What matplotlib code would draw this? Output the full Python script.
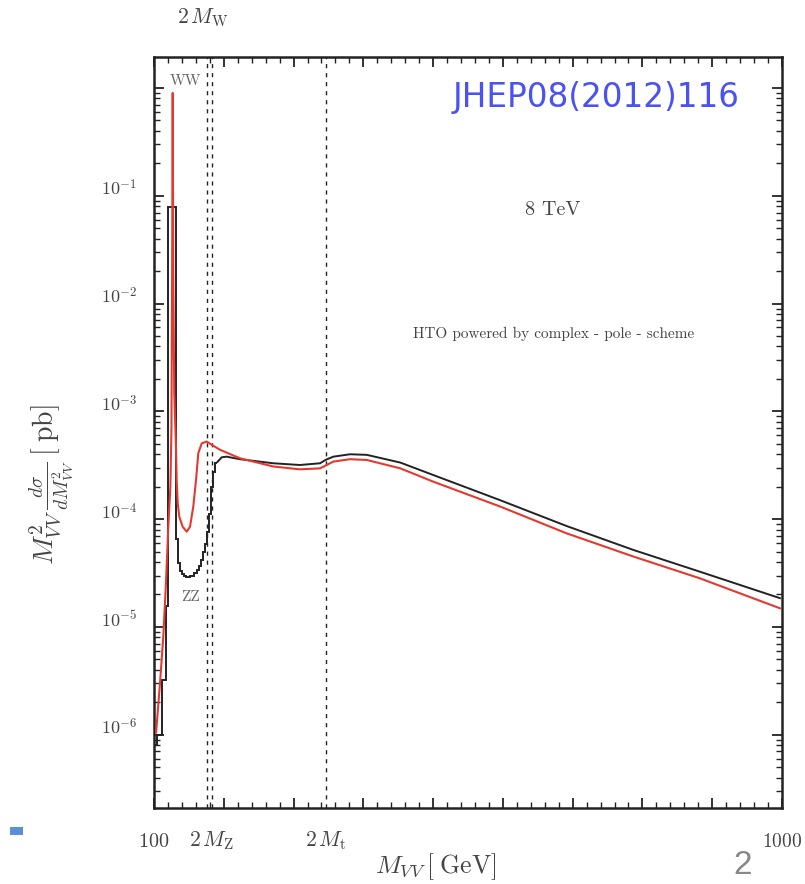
import matplotlib
matplotlib.use('Agg')
import matplotlib.pyplot as plt
from matplotlib.ticker import MultipleLocator, LogLocator, NullFormatter
from matplotlib.patches import Rectangle

plt.rcParams['mathtext.fontset'] = 'cm'
plt.rcParams['axes.unicode_minus'] = False

# black curve, stepped part (bin edges in GeV, values in pb)
black_edges = [102, 104, 111, 116.5, 120.5, 131, 134, 137, 140, 143, 146, 149, 152, 155,
               158, 161, 164, 167, 170, 173, 176, 179, 182, 185, 188, 191]
black_steps = [8.0e-7, 1.0e-6, 3.2e-6, 1.55e-5, 7.9e-2, 6.5e-5, 3.9e-5, 3.3e-5, 3.1e-5,
               2.95e-5, 2.9e-5, 2.9e-5, 2.95e-5, 3.0e-5, 3.15e-5, 3.4e-5, 3.7e-5,
               4.2e-5, 5.0e-5, 5.9e-5, 7.6e-5, 1.12e-4, 2.0e-4, 2.75e-4, 3.3e-4]

# black curve, smooth part
black_m = [191, 197, 204, 223, 271, 309, 338, 346, 357, 381, 405, 453, 500,
           596, 691, 787, 882, 997]
black_v = [3.4e-4, 3.75e-4, 3.8e-4, 3.6e-4, 3.3e-4, 3.18e-4, 3.3e-4, 3.55e-4,
           3.8e-4, 4.0e-4, 3.95e-4, 3.35e-4, 2.57e-4, 1.5e-4, 8.65e-5, 5.18e-5,
           3.26e-5, 1.85e-5]

# red curve
red_m = [103, 108.6, 113.3, 117.2, 120.5, 123.5, 125.0, 126.0, 126.8, 127.6, 129,
         131.5, 132.5, 134.0, 136.3, 141.1, 146.9, 151.6, 156.3, 160.2, 163.5, 168.4,
         175.5, 182.7, 194.6, 223.2, 271, 309, 338, 345, 357, 381, 405, 453, 500,
         596, 691, 787, 882, 997]
red_v = [1.05e-6, 3.0e-6, 8.1e-6, 2.6e-5, 8.5e-5, 2.0e-4, 7e-4, 2e-2, 0.9, 2e-2,
         1.5e-3, 4.7e-4, 2.3e-4, 1.4e-4, 1.05e-4, 8.5e-5, 7.65e-5, 8.5e-5, 1.31e-4,
         2.3e-4, 4.1e-4, 5.05e-4, 5.25e-4, 4.9e-4, 4.4e-4, 3.67e-4, 3.08e-4, 2.9e-4,
         2.96e-4, 3.12e-4, 3.42e-4, 3.6e-4, 3.54e-4, 2.96e-4, 2.23e-4, 1.31e-4,
         7.4e-5, 4.5e-5, 2.83e-5, 1.49e-5]

# thresholds (GeV) as drawn
thr_w = 175.5
thr_z = 183
thr_t = 346

W, H = 805, 884
fig = plt.figure(figsize=(W/100, H/100), dpi=100)
ax = fig.add_axes([154/W, 1-808/H, (782-154)/W, (808-57)/H])

ax.set_yscale('log')
ax.set_xlim(100, 1000)
ax.set_ylim(2.09e-7, 1.94)

tc = '#444444'
for xv in [thr_w, thr_z, thr_t]:
    ax.axvline(xv, color='#222222', lw=1.0, ls=(0, (3, 3.5)), zorder=1)

ax.stairs(black_steps, black_edges, baseline=None, color='#222222', lw=1.4, zorder=3)
ax.plot(black_m, black_v, color='#222222', lw=1.4, zorder=3)
ax.plot(red_m, red_v, color='#e5392f', lw=1.5, zorder=4)

ax.xaxis.set_major_locator(MultipleLocator(100))
ax.xaxis.set_minor_locator(MultipleLocator(20))
ax.yaxis.set_major_locator(LogLocator(base=10, numticks=20))
ax.yaxis.set_minor_locator(LogLocator(base=10, subs=range(2, 10), numticks=20))
ax.xaxis.set_major_formatter(NullFormatter())
ax.yaxis.set_major_formatter(NullFormatter())
ax.yaxis.set_minor_formatter(NullFormatter())
ax.tick_params(which='both', direction='in', top=True, right=True, colors='#222222')
ax.tick_params(which='major', length=7, width=1.3)
ax.tick_params(which='minor', length=4, width=1.0)
for s in ax.spines.values():
    s.set_linewidth(1.8)
    s.set_color('#222222')

# y tick labels
for k in range(1, 7):
    ax.text(-0.027, 10.0**(-k), r'$10^{-%d}$' % k, transform=ax.get_yaxis_transform(),
            ha='right', va='baseline', fontsize=13, color=tc)

# x labels
xt = ax.get_xaxis_transform()
ax.text(100, -0.044, r'$100$', transform=xt, ha='center', va='center', fontsize=14.5, color=tc)
ax.text(thr_z, -0.044, r'$2\,M_{\rm Z}$', transform=xt, ha='center', va='center', fontsize=15.5, color=tc)
ax.text(thr_t, -0.044, r'$2\,M_{\rm t}$', transform=xt, ha='center', va='center', fontsize=15.5, color=tc)
ax.text(1000, -0.044, r'$1000$', transform=xt, ha='center', va='center', fontsize=14, color=tc)
ax.text(170, 1.053, r'$2\,M_{\rm W}$', transform=xt, ha='center', va='center', fontsize=15.5, color=tc)

ax.text(144.5, 1.16, 'WW', fontfamily='cmr10', fontsize=11, color='#666666', ha='center', va='center')
ax.text(153, 1.9e-5, 'ZZ', fontfamily='cmr10', fontsize=11, color='#666666', ha='center', va='center')
ax.text(672, 7.4e-2, '8 TeV', fontfamily='cmr10', fontsize=14.5, color=tc, ha='center', va='center')
ax.text(672, 5.2e-3, 'HTO powered by complex - pole - scheme', fontfamily='cmr10',
        fontsize=11, color=tc, ha='center', va='center')

fig.text(52/W, 1-485/H, r'$M^2_{VV}\,\frac{d\sigma}{dM^2_{VV}}\,[\;\mathrm{pb}]$', rotation=90,
         ha='center', va='center', fontsize=20, color=tc)
fig.text(436/W, 1-867/H, r'$M_{VV}\,[\;\mathrm{GeV}]$', ha='center', va='center',
         fontsize=18.5, color=tc)

fig.text(596/W, 1-98/H, 'JHEP08(2012)116', fontfamily='DejaVu Sans', fontsize=23.5,
         color='#4a52f2', ha='center', va='center')
fig.text(743/W, 1-865/H, '2', fontfamily='Liberation Sans', fontsize=24,
         color='#888888', ha='center', va='center')
fig.patches.append(Rectangle((10/W, 1-835/H), 13/W, 8/H, transform=fig.transFigure,
                             facecolor='#5b8fd6', edgecolor='none'))

fig.savefig('out.png', dpi=100)
